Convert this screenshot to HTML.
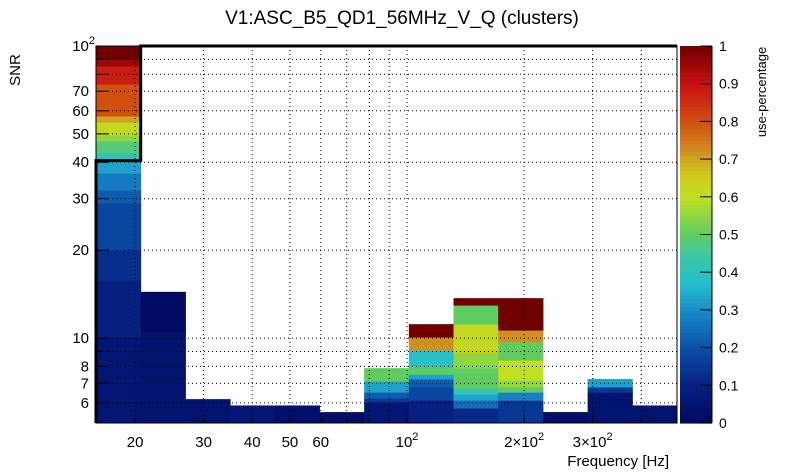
<!DOCTYPE html>
<html><head><meta charset="utf-8"><style>
body{margin:0;background:#fff;}
svg{display:block;font-family:"Liberation Sans",sans-serif;}
</style></head><body>
<svg id="c" width="805" height="472" viewBox="0 0 805 472">
<text x="402" y="24" font-size="19" text-anchor="middle">V1:ASC_B5_QD1_56MHz_V_Q (clusters)</text>
<text x="20" y="70" font-size="15" text-anchor="middle" transform="rotate(-90 20 70)">SNR</text>
<text x="669" y="466" font-size="15" text-anchor="end">Frequency [Hz]</text>
<text x="766" y="92" font-size="13" text-anchor="middle" transform="rotate(-90 766 92)">use-percentage</text>
<g id="cells"></g><g id="grid"></g><g id="axes"></g><g id="cbar"></g>
</svg>
<script>
const xEdgesLog = [1.2005, 2.694];
const nBins = 13;
const yRange = [5.12, 100];
// per-column segment edges (SNR, bottom to top) and values
const colEdges = [
 [5.12,10.08,15.8,20.0,29.0,32.1,36.7,40.1,43.0,47.3,49.6,54.9,57.6,74.1,85.4,90,100],
 [5.12,10.5,14.4],
 [5.12,6.18],
 [5.12,5.88],
 [5.12,5.88],
 [5.12,5.58],
 [5.12,6.03,6.22,6.53,7.12,7.89],
 [5.12,6.13,6.80,7.24,7.52,7.96,8.22,9.10,10.08,11.16],
 [5.12,5.76,6.13,6.43,6.74,7.89,8.89,9.10,11.16,12.97,13.7],
 [5.12,6.13,6.53,6.80,7.18,8.41,9.69,10.65,13.7],
 [5.12,5.58],
 [5.12,6.53,6.80,7.24],
 [5.12,5.88]
];
const colValues = [
 [0.06,0.1,0.13,0.18,0.22,0.27,0.33,0.4,0.48,0.55,0.62,0.7,0.8,0.88,0.95,1.0],
 [0.04,0.01],
 [0.04],
 [0.06],
 [0.03],
 [0.02],
 [0.06,0.15,0.22,0.33,0.5],
 [0.1,0.18,0.22,0.33,0.5,0.4,0.38,0.72,1.0],
 [0.12,0.25,0.33,0.42,0.5,0.55,0.65,0.62,0.5,1.0],
 [0.15,0.28,0.5,0.55,0.6,0.5,0.72,1.0],
 [0.02],
 [0.05,0.15,0.33],
 [0.04]
];
const xTicks = [20,30,40,50,60,100,200,300];
const xTickBase = ["20","30","40","50","60","10","2×10","3×10"];
const xTickExp = ["","","","","","2","2","2"];
const xGrid = [20,30,40,50,60,70,80,90,100,200,300,400];
const yTicks = [6,7,8,10,20,30,40,50,60,70,100];
const yTickBase = ["6","7","8","10","20","30","40","50","60","70","10"];
const yTickExp = ["","","","","","","","","","","2"];
const yGrid = [6,7,8,9,10,20,30,40,50,60,70,80,90];
const cbTicks = [0,0.1,0.2,0.3,0.4,0.5,0.6,0.7,0.8,0.9,1];

const L=96,R=677,T=46,B=423;
const X = lg => L+(lg-xEdgesLog[0])/(xEdgesLog[1]-xEdgesLog[0])*(R-L);
const xs = v => X(Math.log10(v));
const ys = v => B-(Math.log10(v)-Math.log10(yRange[0]))/(Math.log10(yRange[1])-Math.log10(yRange[0]))*(B-T);
const stops=[[0,[0,8,96]],[0.1,[6,32,128]],[0.2,[10,80,168]],[0.3,[26,140,200]],[0.37,[36,190,206]],[0.45,[64,200,160]],[0.5,[96,204,96]],[0.6,[192,224,32]],[0.66,[208,200,32]],[0.72,[208,144,32]],[0.8,[208,80,16]],[0.9,[200,16,16]],[1,[112,0,0]]];
function col(v){v=Math.max(0,Math.min(1,v));for(let i=1;i<stops.length;i++){if(v<=stops[i][0]){const a=stops[i-1],b=stops[i],t=(v-a[0])/(b[0]-a[0]);const c=a[1].map((x,k)=>Math.round(x+(b[1][k]-x)*t));return `rgb(${c})`;}}return 'rgb(112,0,0)';}
const NS='http://www.w3.org/2000/svg';
function mk(tag,attrs,parent){const e=document.createElementNS(NS,tag);for(const k in attrs)e.setAttribute(k,attrs[k]);parent.appendChild(e);return e;}
function label(t,base,exp){t.appendChild(document.createTextNode(base));if(exp){const s=mk('tspan',{dy:-7,'font-size':11},t);s.textContent=exp;}}
const cells=document.getElementById('cells'),grid=document.getElementById('grid'),axes=document.getElementById('axes'),cbar=document.getElementById('cbar');
const bw=(xEdgesLog[1]-xEdgesLog[0])/nBins;
colEdges.forEach((edges,i)=>{
  const x0=X(xEdgesLog[0]+i*bw),x1=X(xEdgesLog[0]+(i+1)*bw);
  colValues[i].forEach((v,j)=>{
    const y0=ys(edges[j+1]),y1=ys(edges[j]);
    const r=mk('rect',{x:x0,y:y0,width:x1-x0+0.5,height:y1-y0+0.5,fill:col(v)},cells);
    
    
  });
});
xGrid.forEach(v=>{const l=mk('line',{x1:xs(v),x2:xs(v),y1:T,y2:B,stroke:'#000','stroke-width':1,'stroke-dasharray':'1,3'},grid);
  });
yGrid.forEach(v=>{const l=mk('line',{x1:L,x2:R,y1:ys(v),y2:ys(v),stroke:'#000','stroke-width':1,'stroke-dasharray':'1,3'},grid);
  });
const fr=mk('rect',{x:L,y:T,width:R-L,height:B-T,fill:'none',stroke:'#000','stroke-width':1},axes);

const x1b=X(xEdgesLog[0]+bw);
const ct=mk('path',{d:`M${L},${B} L${L},${ys(40.5)} L${x1b},${ys(40.5)} L${x1b},${T} L${R},${T}`,fill:'none',stroke:'#000','stroke-width':3},axes);

xTicks.forEach((v,i)=>{const t=mk('text',{x:xs(v),y:447,'font-size':15,'text-anchor':'middle'},axes);label(t,xTickBase[i],xTickExp[i]);
  });
xGrid.forEach(v=>{mk('line',{x1:xs(v),x2:xs(v),y1:B,y2:B-8,stroke:'#000'},axes);});
yGrid.concat([100]).forEach(v=>{mk('line',{x1:L,x2:L+12,y1:ys(v),y2:ys(v),stroke:'#000'},axes);});
yTicks.forEach((v,i)=>{const t=mk('text',{x:yTickExp[i]?95:89,y:ys(v)+5,'font-size':15,'text-anchor':'end'},axes);label(t,yTickBase[i],yTickExp[i]);
  });
// colorbar
const CL=680,CR=712;
for(let k=0;k<100;k++){const v=(k+0.5)/100;mk('rect',{x:CL,y:B-(k+1)/100*(B-T),width:CR-CL,height:(B-T)/100+0.6,fill:col(v)},cbar);}
const cf=mk('rect',{x:CL,y:T,width:CR-CL,height:B-T,fill:'none',stroke:'none'},cbar);

cbTicks.forEach(v=>{const y=B-v*(B-T);mk('line',{x1:CR-12,x2:CR,y1:y,y2:y,stroke:'#000'},cbar);
  const t=mk('text',{x:719,y:y+5,'font-size':14},cbar);t.textContent=String(v);
  });
mk('line',{x1:CR,x2:CR,y1:T,y2:B,stroke:'#000'},cbar);
</script>
</body></html>
